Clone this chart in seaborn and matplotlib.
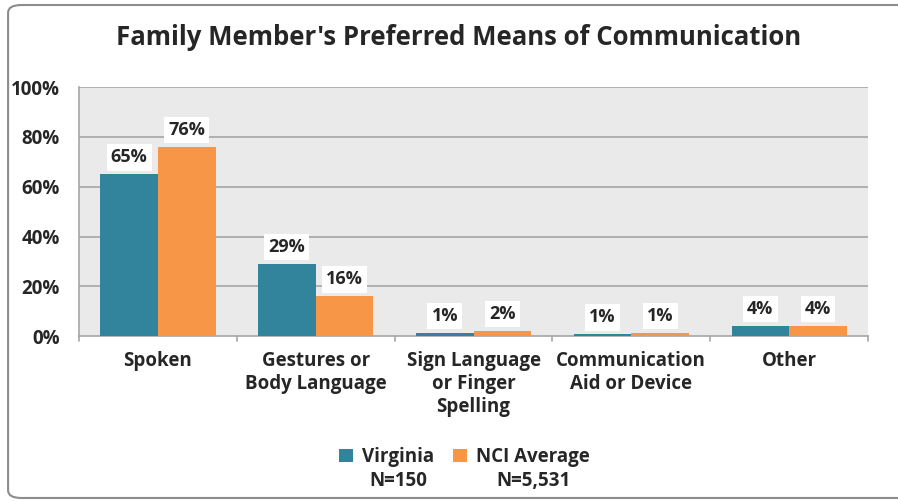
import matplotlib
matplotlib.use("Agg")
import matplotlib.pyplot as plt
import pandas as pd
import seaborn as sns
from matplotlib.patches import FancyBboxPatch

categories = ["Spoken", "Gestures or\nBody Language", "Sign Language\nor Finger\nSpelling",
              "Communication\nAid or Device", "Other"]
virginia = [65, 29, 1.2, 0.7, 4]
nci_average = [76, 16, 2, 1.3, 4]
series_names = ["Virginia", "NCI Average"]
series_n = ["N=150", "N=5,531"]
y_ticks = [0, 20, 40, 60, 80, 100]

colors = ["#31849B", "#F79646"]

df = pd.DataFrame({
    "category": categories * 2,
    "value": virginia + nci_average,
    "group": [series_names[0]] * len(categories) + [series_names[1]] * len(categories),
})

sns.set_style("white")
plt.rcParams["font.family"] = ["Open Sans", "DejaVu Sans"]
plt.rcParams["font.weight"] = "bold"

fig = plt.figure(figsize=(8.98, 5.01), dpi=100)
ax = fig.add_axes([0.088, 0.329, 0.8786, 0.497])

# outer rounded frame
frame = FancyBboxPatch((0.009, 0.006), 1.05, 0.984, boxstyle="round,pad=0,rounding_size=0.015",
                       transform=fig.transFigure, facecolor="none", edgecolor="#8C8C8C",
                       linewidth=1.5, zorder=-1)
fig.patches.append(frame)

sns.barplot(data=df, x="category", y="value", hue="group", palette=colors,
            width=0.73, gap=0, saturation=1, ax=ax, legend=True, zorder=3, linewidth=0)

ax.set_facecolor("#EAEAEA")
ax.set_ylim(0, 100)
ax.set_xlim(-0.5, len(categories) - 0.5)
ax.set_yticks(y_ticks)
ax.set_yticklabels([f"{t}%" for t in y_ticks], fontsize=13.5, fontweight="bold")
ax.set_xticks(range(len(categories)))
ax.set_xticklabels(categories, fontsize=13.5, fontweight="bold", linespacing=1.2)
ax.tick_params(axis="x", length=0, pad=11)
ax.tick_params(axis="y", length=0, pad=14)
ax.set_xlabel("")
ax.set_ylabel("")
for t in y_ticks[1:]:
    ax.axhline(t, color="#A6A6A6", linewidth=1.2, zorder=1)
for b in [-0.5, 0.5, 1.5, 2.5, 3.5, 4.5]:
    ax.plot([b, b], [0, -2], color="#A6A6A6", linewidth=1.2, clip_on=False)

for s in ["top", "right"]:
    ax.spines[s].set_visible(False)
ax.spines["left"].set_color("#A6A6A6")
ax.spines["bottom"].set_color("#A6A6A6")
ax.spines["left"].set_linewidth(1.2)
ax.spines["bottom"].set_linewidth(1.2)

for container in ax.containers:
    for bar in container:
        h = bar.get_height()
        ax.text(bar.get_x() + bar.get_width() / 2, h + 6.8, f"{h:.0f}%",
                ha="center", va="center", fontsize=13, fontweight="bold",
                bbox=dict(facecolor="white", edgecolor="none", pad=3), zorder=4)

handles, labels = ax.get_legend_handles_labels()
ax.get_legend().remove()
leg = fig.legend(handles, labels, loc="center", bbox_to_anchor=(0.517, 0.088), ncol=2,
                 frameon=False, fontsize=13.5, handlelength=0.75, handleheight=0.75,
                 columnspacing=1.0, handletextpad=0.5)
for t in leg.get_texts():
    t.set_fontweight("bold")

# sample sizes under the legend labels
fig.canvas.draw()
inv = fig.transFigure.inverted()
for t, n in zip(leg.get_texts(), series_n):
    bb = t.get_window_extent()
    x0, y0 = inv.transform((bb.x0 + bb.width / 2, bb.y0))
    fig.text(x0, y0 - 0.008, n, ha="center", va="top", fontsize=13.5, fontweight="bold")

fig.text(0.511, 0.926, "Family Member's Preferred Means of Communication",
         ha="center", va="center", fontsize=18.5, fontweight="bold")

fig.savefig("out.png", dpi=100)
